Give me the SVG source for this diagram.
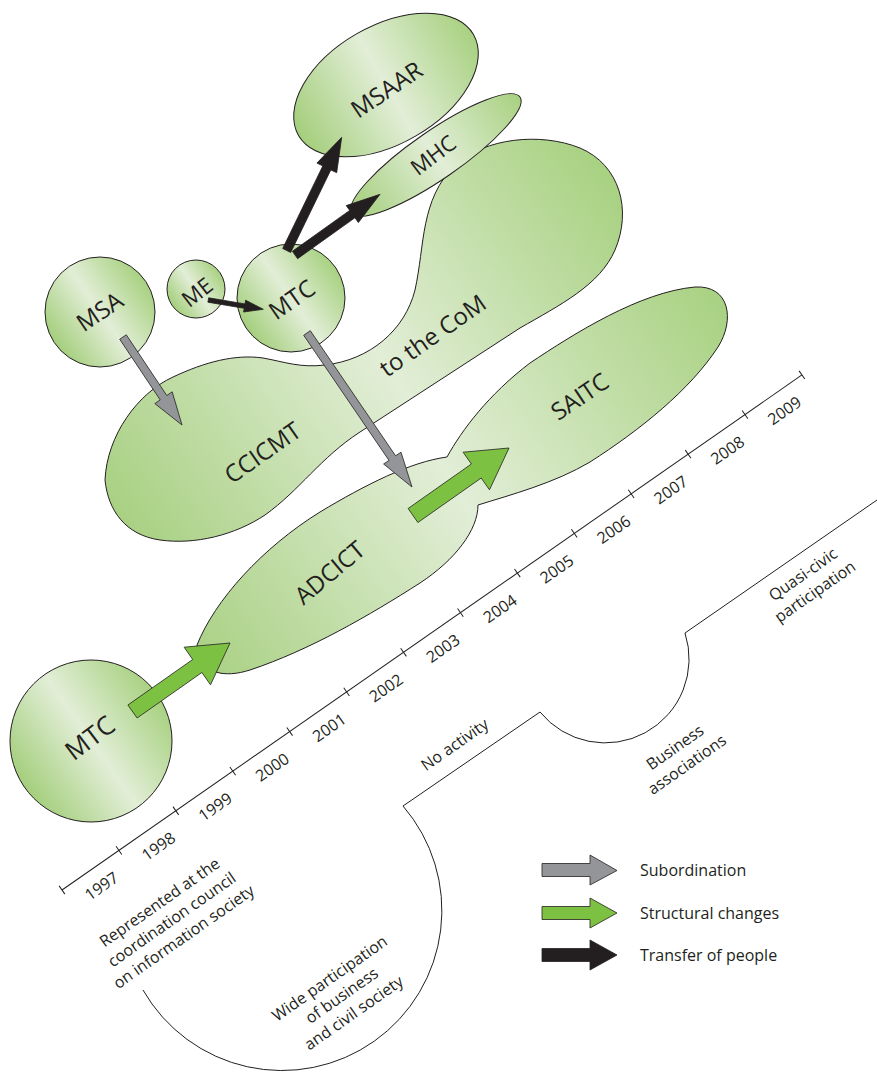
<svg xmlns="http://www.w3.org/2000/svg" width="877" height="1073" viewBox="0 0 877 1073">
<defs>
<linearGradient id="gAxis" x1="0" y1="0.5" x2="1" y2="0.5">
<stop offset="0" stop-color="#a4ce7c"/><stop offset="0.5" stop-color="#e2eed7"/><stop offset="1" stop-color="#a8d181"/>
</linearGradient>
<linearGradient id="gCircle" x1="0" y1="0.5" x2="1" y2="0.5" gradientTransform="rotate(-35 0.5 0.5)">
<stop offset="0" stop-color="#a4ce7c"/><stop offset="0.5" stop-color="#e2eed7"/><stop offset="1" stop-color="#a8d181"/>
</linearGradient>
<linearGradient id="gBig" gradientUnits="userSpaceOnUse" x1="120" y1="560" x2="640" y2="200">
<stop offset="0" stop-color="#a4ce7c"/><stop offset="0.52" stop-color="#e2eed7"/><stop offset="1" stop-color="#a6d07e"/>
</linearGradient>
<linearGradient id="gAd" gradientUnits="userSpaceOnUse" x1="180" y1="690" x2="740" y2="300">
<stop offset="0" stop-color="#a4ce7c"/><stop offset="0.5" stop-color="#e2eed7"/><stop offset="1" stop-color="#a6d07e"/>
</linearGradient>
</defs>
<style>
.shape{stroke:#231f20;stroke-width:1}
.lbl{font-family:"Open Sans","Noto Sans",sans-serif;font-size:24px;fill:#231f20;text-anchor:middle}
.yr{font-family:"Open Sans","Noto Sans",sans-serif;font-size:16px;fill:#231f20;text-anchor:middle}
.note{font-family:"Open Sans","Noto Sans",sans-serif;font-size:16px;fill:#231f20;text-anchor:middle}
.leg{font-family:"Open Sans","Noto Sans",sans-serif;font-size:16px;fill:#231f20}
.ln{stroke:#231f20;stroke-width:1;fill:none}
.gray{fill:#939598;stroke:#231f20;stroke-width:0.8}
.green{fill:#7dc142;stroke:#231f20;stroke-width:0.8}
.black{fill:#231f20;stroke:#231f20;stroke-width:0.8}
</style>
<rect width="877" height="1073" fill="#ffffff"/>

<g id="node-ccicmt">
<path class="shape" fill="url(#gBig)" d="M105,480 C107,435 138,393 173,377 C205,362 235,354 263,358 C285,362 300,368 325,365 C370,360 405,330 415,290 C425,245 420,200 455,165 C485,138 540,132 580,148 C620,165 632,210 615,250 C600,285 560,305 520,328 L360,432 C320,458 300,490 265,515 C235,535 195,545 160,540 C125,535 108,510 105,480 Z"/>
<text class="lbl" transform="translate(263,453) rotate(-35)" y="8">CCICMT</text>
<text class="lbl" transform="translate(433,336) rotate(-35)" y="8">to the CoM</text>
</g>

<g id="node-adcict-saitc">
<path class="shape" fill="url(#gAd)" d="M197,645 C215,600 262,548 320,512 C365,485 410,462 447,457 C462,430 488,395 530,363 C575,333 640,292 695,287 C730,285 735,320 718,347 C690,390 640,430 590,462 C555,483 510,495 478,505 C478,530 455,560 420,583 C370,615 310,650 250,670 C225,678 200,675 197,645 Z"/>
<text class="lbl" transform="translate(330,573) rotate(-40)" y="8">ADCICT</text>
<text class="lbl" transform="translate(580,397) rotate(-34)" y="8">SAITC</text>
</g>

<g id="node-msaar">
<ellipse class="shape" fill="url(#gAxis)" cx="0" cy="0" rx="101" ry="59" transform="translate(386,85) rotate(-30)"/>
<text class="lbl" transform="translate(387,90) rotate(-34)" y="8">MSAAR</text>
</g>

<g id="node-mhc">
<ellipse class="shape" fill="url(#gAxis)" cx="0" cy="0" rx="102" ry="24" transform="translate(436,155) rotate(-34.6)"/>
<text class="lbl" style="font-size:22px" transform="translate(433,155) rotate(-37)" y="8">MHC</text>
</g>

<g id="node-msa">
<circle class="shape" fill="url(#gCircle)" cx="100" cy="312" r="55"/>
<text class="lbl" transform="translate(100,312) rotate(-34)" y="8">MSA</text>
</g>

<g id="node-me">
<circle class="shape" fill="url(#gCircle)" cx="196" cy="289" r="29"/>
<text class="lbl" style="font-size:22px" transform="translate(197,292) rotate(-38)" y="8">ME</text>
</g>

<g id="node-mtc-top">
<circle class="shape" fill="url(#gCircle)" cx="291" cy="298" r="54"/>
<text class="lbl" transform="translate(292,300) rotate(-35)" y="8">MTC</text>
</g>

<g id="node-mtc-bottom">
<circle class="shape" fill="url(#gCircle)" cx="91" cy="741" r="81"/>
<text class="lbl" style="font-size:26px" transform="translate(90,738) rotate(-37)" y="9">MTC</text>
</g>

<g id="connectors">
<polygon class="gray" points="119.7,339.2 160.2,399.9 154.8,403.6 182,425 172.2,391.8 166.8,395.5 126.3,334.8"/>
<polygon class="gray" points="303.7,335.3 389.0,460.4 383.6,464.0 412,487 401.0,452.2 395.6,455.8 310.3,330.7"/>
<polygon class="black" points="207.9,302.2 244.2,308.3 243.6,312.0 263.3,309.3 245.6,300.2 245.0,303.9 208.7,297.8"/>
<polygon class="black" points="290.7,252.5 330.8,169.9 336.7,172.7 341.7,137.3 316.9,163.1 322.8,165.9 282.7,248.5"/>
<polygon class="black" points="297.6,258.7 354.9,217.8 358.4,222.6 380,194.3 346.2,205.6 349.7,210.4 292.4,251.3"/>
<polygon class="green" points="137.1,718 201.9,672.5 210.5,684.8 230,643 184.1,647.2 192.7,659.5 127.9,705"/>
<polygon class="green" points="417.9,522.5 481.2,478 489.5,489.8 509,448 463.1,452.2 471.4,464 408.1,508.5"/>
</g>

<g id="timeline" transform="translate(62,890) rotate(-34.84)">
<line class="ln" x1="0" y1="0" x2="901.55" y2="0"/>
<path class="ln" d="M0,-5V5M69.35,-5V5M138.7,-5V5M208.05,-5V5M277.4,-5V5M346.75,-5V5M416.1,-5V5M485.45,-5V5M554.8,-5V5M624.15,-5V5M693.5,-5V5M762.85,-5V5M832.2,-5V5M901.55,-5V5"/>
<text class="yr" x="34.68" y="25">1997</text>
<text class="yr" x="104.03" y="25">1998</text>
<text class="yr" x="173.38" y="25">1999</text>
<text class="yr" x="242.73" y="25">2000</text>
<text class="yr" x="312.08" y="25">2001</text>
<text class="yr" x="381.43" y="25">2002</text>
<text class="yr" x="450.78" y="25">2003</text>
<text class="yr" x="520.13" y="25">2004</text>
<text class="yr" x="589.48" y="25">2005</text>
<text class="yr" x="658.83" y="25">2006</text>
<text class="yr" x="728.18" y="25">2007</text>
<text class="yr" x="797.53" y="25">2008</text>
<text class="yr" x="866.88" y="25">2009</text>
</g>

<g id="participation">
<path class="ln" d="M877,500 L685,633 A84,84 0 0 1 540,712 L403,806 A160,160 0 1 1 143,990"/>
<text class="note" transform="translate(172,920) rotate(-35)"><tspan x="0" y="-16">Represented at the</tspan><tspan x="0" y="5">coordination council</tspan><tspan x="0" y="26">on information society</tspan></text>
<text class="note" transform="translate(342,996) rotate(-35)"><tspan x="0" y="-16">Wide participation</tspan><tspan x="0" y="5">of business</tspan><tspan x="0" y="26">and civil society</tspan></text>
<text class="note" transform="translate(455,745) rotate(-35)" y="5">No activity</text>
<text class="note" transform="translate(681,756) rotate(-35)"><tspan x="0" y="-5">Business</tspan><tspan x="0" y="16">associations</tspan></text>
<text class="note" transform="translate(809,583) rotate(-35)"><tspan x="0" y="-5">Quasi-civic</tspan><tspan x="0" y="16">participation</tspan></text>
</g>

<g id="legend">
<polygon class="gray" points="542,863.5 590,863.5 590,855 617,870.5 590,885 590,876.5 542,876.5"/>
<text class="leg" x="640" y="876">Subordination</text>
<polygon class="green" points="542,906.5 590,906.5 590,898 617,913 590,928 590,919.5 542,919.5"/>
<text class="leg" x="640" y="919">Structural changes</text>
<polygon class="black" points="542,948.5 590,948.5 590,940 617,955 590,970 590,961.5 542,961.5"/>
<text class="leg" x="640" y="961">Transfer of people</text>
</g>
</svg>
